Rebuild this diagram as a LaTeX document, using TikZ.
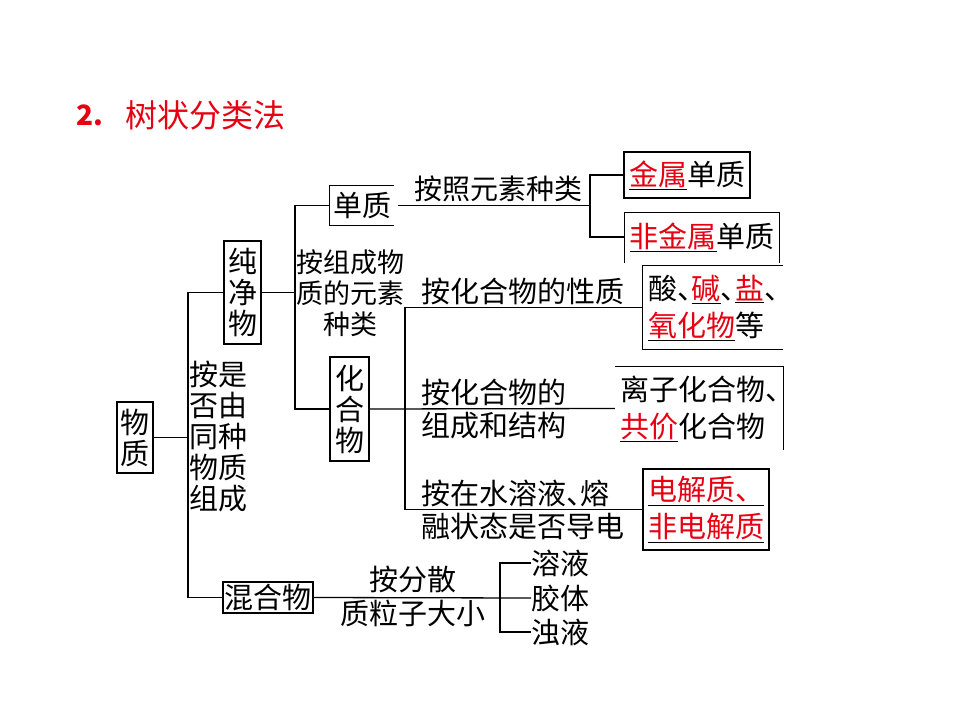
\documentclass[tikz,border=0pt]{standalone}
\usepackage{fontspec}
\setmainfont{Noto Sans CJK SC}
\usepackage{tikz}
\usetikzlibrary{positioning,calc}
\definecolor{flred}{RGB}{230,0,18}
\newcommand{\cnfont}{\fontsize{29}{31}\selectfont}
\newcommand{\keyw}[1]{\underline{\textcolor{flred}{#1}}}
\newcommand{\dun}{\makebox[0.5em][l]{、}}
\tikzset{
  box/.style={
    rectangle, draw, line width=1.3pt, inner sep=0pt,
    align=center, font=\cnfont
  },
  openbox/.style={
    rectangle, inner ysep=0pt, inner xsep=5pt,
    align=left, font=\cnfont
  },
  tag/.style={inner sep=0pt, align=left, font=\cnfont},
  branch/.style={line width=1.3pt},
  side/.style={line width=1.3pt}
}

\begin{document}
\begin{tikzpicture}[x=1pt, y=-1pt]
  \useasboundingbox (0,0) rectangle (960,720);

  \node[tag, anchor=west, text=flred, font=\fontsize{28}{32}\selectfont\bfseries]
    (num) at (76,115) {2.};
  \node[tag, anchor=west, text=flred, font=\fontsize{32}{34}\selectfont]
    (title) at (125,115) {树状分类法};

  \node[box, minimum width=36pt, minimum height=71pt] (wz) at (135,437.5) {物\\质};
  \node[box, minimum width=37pt, minimum height=103pt] (cjw) at (242.5,292.5) {纯\\净\\物};
  \node[box, minimum width=90pt, minimum height=31pt] (hhw) at (268,597.5) {混合物};
  \node[box, minimum width=39pt, minimum height=104pt] (hhz) at (349.5,409) {化\\合\\物};
  \node[openbox, minimum width=64pt, minimum height=39pt, inner xsep=0pt]
    (dz) at (362,205.5) {单质};

  \node[box, minimum width=126pt, minimum height=46pt] (js) at (687,175) {\keyw{金属}单质};
  \node[openbox, minimum width=155pt, minimum height=48pt, align=center]
    (fjs) at (702,237) {\keyw{非金属}单质};
  \node[openbox, text width=130pt, minimum height=83pt]
    (sj) at (713,307.5) {酸\dun\keyw{碱}\dun\keyw{盐}\dun\\[6pt]\keyw{氧化物}等};
  \node[openbox, text width=158pt, minimum height=83pt]
    (lz) at (699,408.5) {离子化合物\dun\\[6pt]\keyw{共价}化合物};
  \node[box, align=left, text width=116pt, inner xsep=5pt, minimum height=81pt]
    (dj) at (706,509.5) {\keyw{电解质、}\\[6pt]\keyw{非电解质}};

  \node[tag, anchor=west] (byz) at (189,437) {按是\\否由\\同种\\物质\\组成};
  \node[tag, align=center, font=\fontsize{27}{31}\selectfont]
    (zcy) at (350,293) {按组成物\\质的元素\\种类};
  \node[tag, anchor=west, font=\fontsize{28}{31}\selectfont]
    (azy) at (414,189) {按照元素种类};
  \node[tag, anchor=west] (axz) at (421,291) {按化合物的性质};
  \node[tag, anchor=west] (azc) at (421,409) {按化合物的\\[2pt]组成和结构};
  \node[tag, anchor=west] (asr) at (421,510) {按在水溶液\dun 熔\\[2pt]融状态是否导电};
  \node[tag] (afs) at (413,579) {按分散};
  \node[tag] (zlz) at (413,613) {质粒子大小};

  \node[tag, anchor=west] (ry) at (531,563) {溶液};
  \node[tag, anchor=west] (jt) at (531,598) {胶体};
  \node[tag, anchor=west] (zy) at (531,632) {浊液};

  \coordinate (jA) at (188,0);
  \coordinate (jC) at (295,0);
  \coordinate (jD) at (590,0);
  \coordinate (jE) at (405,0);
  \coordinate (jF) at (500,0);

  \draw[side] (dz.south east) -- (dz.south west) -- (dz.north west) -- (dz.north east);
  \draw[side] ([yshift=-2pt]fjs.south west) -- (fjs.north west) -- (fjs.north east)
    -- ([yshift=-2pt]fjs.south east);
  \draw[side] (sj.north east) -- (sj.north west) -- (sj.south west) -- (sj.south east);
  \draw[side] (lz.north west) -- (lz.north east) -- (lz.south east);

  \draw[branch] (wz.east) -- (wz.east -| jA);
  \draw[branch] (cjw.west) -- (cjw.west -| jA) -- (hhw.west -| jA) -- (hhw.west);
  \draw[branch] (cjw.east) -- (cjw.east -| jC);
  \draw[branch] (dz.west) -- (dz.west -| jC) -- (hhz.west -| jC) -- (hhz.west);
  \draw[branch] ([xshift=4pt]dz.east) -- (dz.east -| jD);
  \draw[branch] (js.west) -- (js.west -| jD) -- (fjs.west -| jD) -- (fjs.west);
  \draw[branch] (hhz.east) -- (lz.west);
  \draw[branch] (sj.west) -- (sj.west -| jE) -- (dj.west -| jE) -- (dj.west);
  \draw[branch] (hhw.east) -- (jt.west);
  \draw[branch] (ry.west) -- (ry.west -| jF) -- (zy.west -| jF) -- (zy.west);
\end{tikzpicture}
\end{document}
